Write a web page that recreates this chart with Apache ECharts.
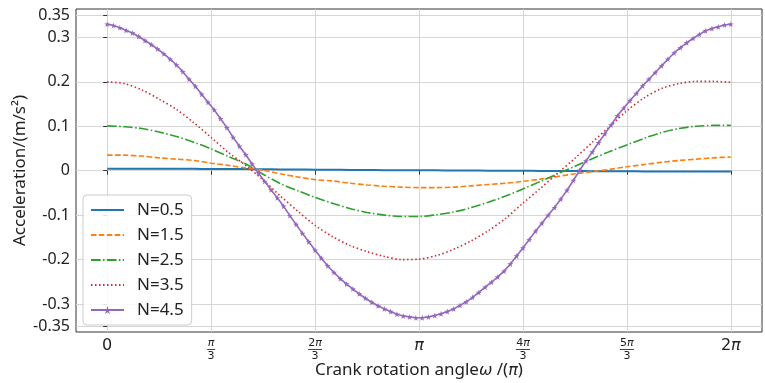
<!DOCTYPE html>
<html>
<head>
<meta charset="utf-8">
<script src="https://cdn.jsdelivr.net/npm/echarts@6/dist/echarts.min.js"></script>
<style>
  html, body { margin: 0; padding: 0; background: #fff; }
  #chart { width: 765px; height: 383px; }
</style>
</head>
<body>
<div id="chart"></div>
<script>
// legend names, one per curve
const names = ['N=0.5', 'N=1.5', 'N=2.5', 'N=3.5', 'N=4.5'];
const colors = ['#1f77b4', '#ff7f0e', '#2ca02c', '#d62728', '#9467bd'];

// x ticks, in units of pi
const xTickValues = [0, 1 / 3, 2 / 3, 1, 4 / 3, 5 / 3, 2];
const xTickLabels = [
  '{m|0}',
  '{fi|π}\n{bar1| }\n{fn|3}',
  '{fn|2}{fi|π}\n{bar2| }\n{fn|3}',
  '{i|π}',
  '{fn|4}{fi|π}\n{bar2| }\n{fn|3}',
  '{fn|5}{fi|π}\n{bar2| }\n{fn|3}',
  '{m|2}{i|π}'
];
const yTickValues = [-0.35, -0.3, -0.2, -0.1, 0, 0.1, 0.2, 0.3, 0.35];
const yTickLabels = ['-0.35', '-0.3', '-0.2', '-0.1', '0', '0.1', '0.2', '0.3', '0.35'];

const n05 = [0.0045, 0.0045, 0.0045, 0.0044, 0.0043, 0.0042, 0.0040, 0.0038, 0.0036, 0.0033,
  0.0030, 0.0027, 0.0024, 0.0021, 0.0018, 0.0015, 0.0013, 0.0011, 0.0010, 0.0008,
  0.0006, 0.0004, 0.0002, 0.0000, -0.0002, -0.0004, -0.0006, -0.0008, -0.0010, -0.0012,
  -0.0013, -0.0015, -0.0016, -0.0017, -0.0018, -0.0019, -0.0020];
const n15 = [0.035, 0.035, 0.033, 0.029, 0.026, 0.023, 0.017, 0.012, 0.006, 0.001,
  -0.007, -0.014, -0.020, -0.023, -0.028, -0.032, -0.035, -0.037, -0.038, -0.038,
  -0.037, -0.034, -0.031, -0.028, -0.024, -0.019, -0.013, -0.007, -0.002, 0.003,
  0.009, 0.014, 0.019, 0.023, 0.026, 0.029, 0.031];
const n25 = [0.101, 0.099, 0.095, 0.087, 0.077, 0.064, 0.049, 0.032, 0.015, -0.008,
  -0.029, -0.045, -0.060, -0.073, -0.085, -0.094, -0.100, -0.103, -0.103, -0.099,
  -0.093, -0.083, -0.071, -0.057, -0.041, -0.024, -0.007, 0.010, 0.027, 0.043,
  0.058, 0.073, 0.086, 0.095, 0.100, 0.102, 0.102];
const n35 = [0.200, 0.196, 0.182, 0.161, 0.138, 0.108, 0.075, 0.041, 0.012, -0.021,
  -0.057, -0.091, -0.123, -0.148, -0.168, -0.182, -0.193, -0.200, -0.199, -0.191,
  -0.177, -0.158, -0.135, -0.107, -0.073, -0.040, -0.006, 0.028, 0.064, 0.099,
  0.135, 0.164, 0.185, 0.196, 0.201, 0.201, 0.199];
// N=4.5 has a marker on each of its 100 samples over [0, 2pi]
const n45 = [0.330, 0.327, 0.322, 0.316, 0.310, 0.302, 0.293, 0.284, 0.274, 0.263,
  0.251, 0.238, 0.223, 0.206, 0.190, 0.172, 0.154, 0.137, 0.117, 0.097,
  0.075, 0.055, 0.036, 0.015, -0.005, -0.024, -0.043, -0.061, -0.080, -0.101,
  -0.121, -0.141, -0.160, -0.179, -0.197, -0.214, -0.229, -0.243, -0.255, -0.266,
  -0.277, -0.287, -0.296, -0.304, -0.311, -0.317, -0.323, -0.327, -0.329, -0.331,
  -0.331, -0.329, -0.326, -0.322, -0.317, -0.311, -0.303, -0.295, -0.285, -0.274,
  -0.262, -0.251, -0.239, -0.226, -0.210, -0.192, -0.174, -0.155, -0.136, -0.118,
  -0.100, -0.083, -0.064, -0.044, -0.022, 0.001, 0.022, 0.042, 0.063, 0.083,
  0.103, 0.124, 0.141, 0.158, 0.174, 0.191, 0.206, 0.221, 0.236, 0.251,
  0.265, 0.277, 0.288, 0.298, 0.307, 0.315, 0.320, 0.324, 0.328, 0.330];

const curves = [n05, n15, n25, n35, n45];
const dashes = ['solid', [5.5, 2.4], [9.6, 2.4, 1.5, 2.4], [1.5, 2.5], 'solid'];

function toPairs(values) {
  const step = 2 / (values.length - 1);
  return values.map((v, i) => [i * step, v]);
}

const star = 'path://M50,0 L61,35 L98,35 L68,57 L79,91 L50,70 L21,91 L32,57 L2,35 L39,35 Z';

const series = curves.map((values, i) => {
  const marked = i === 4;
  return {
    name: names[i],
    type: 'line',
    data: toPairs(values),
    smooth: marked ? false : 0.3,
    symbol: marked ? star : 'none',
    symbolSize: 6,
    showSymbol: marked,
    lineStyle: { color: colors[i], width: i === 0 ? 2 : 1.6, type: dashes[i], cap: 'butt' },
    itemStyle: { color: colors[i] },
    z: 2 + i
  };
});

// only the marked curve shows a symbol in its legend entry
const legendData = names.map((name, i) => (
  i === 4 ? { name } : { name, itemStyle: { opacity: 0 } }
));

const chart = echarts.init(document.getElementById('chart'));
chart.setOption({
  animation: false,
  backgroundColor: '#fff',
  grid: {
    left: 76, top: 9, right: 3, bottom: 51,
    show: true, borderColor: '#333', borderWidth: 1,
    outerBoundsMode: 'none'
  },
  legend: {
    orient: 'vertical',
    left: 83,
    top: 195,
    itemWidth: 33,
    itemHeight: 10,
    itemGap: 5,
    padding: [5, 8, 5, 7],
    backgroundColor: 'rgba(255,255,255,0.85)',
    borderColor: '#cccccc',
    borderWidth: 1,
    borderRadius: 4,
    textStyle: { fontFamily: 'Noto Sans', fontSize: 17, color: '#222', lineHeight: 20, padding: [0, 0, 0, 8] },
    data: legendData
  },
  xAxis: {
    type: 'value',
    min: -0.1,
    max: 2.1,
    name: '{t|Crank rotation angle}{i|ω}{t| /(}{i|π}{t|)}',
    nameLocation: 'middle',
    nameGap: 30,
    nameMoveOverlap: false,
    nameTextStyle: {
      rich: {
        t: { fontFamily: 'Noto Sans', fontSize: 17, color: '#222' },
        i: { fontFamily: 'DejaVu Sans', fontStyle: 'italic', fontSize: 16, color: '#222' }
      }
    },
    axisLine: { show: false },
    axisTick: { show: true, length: 4, lineStyle: { color: '#333' }, customValues: xTickValues },
    splitLine: { show: true, lineStyle: { color: '#d6d6d6', width: 1 } },
    axisLabel: {
      margin: 6,
      customValues: xTickValues,
      formatter: (value) => {
        const i = xTickValues.findIndex(v => Math.abs(v - value) < 1e-6);
        return i >= 0 ? xTickLabels[i] : '';
      },
      rich: {
        m: { fontFamily: 'DejaVu Sans', fontSize: 16, color: '#222' },
        i: { fontFamily: 'DejaVu Sans', fontStyle: 'italic', fontSize: 16, color: '#222' },
        fn: { fontFamily: 'DejaVu Sans', fontSize: 11, lineHeight: 10, color: '#222' },
        fi: { fontFamily: 'DejaVu Sans', fontStyle: 'italic', fontSize: 11, lineHeight: 10, color: '#222' },
        bar1: { width: 8, height: 1, lineHeight: 3, fontSize: 1, backgroundColor: '#444' },
        bar2: { width: 14, height: 1, lineHeight: 3, fontSize: 1, backgroundColor: '#444' }
      }
    }
  },
  yAxis: {
    type: 'value',
    min: -0.363,
    max: 0.364,
    name: 'Acceleration/(m/s²)',
    nameLocation: 'middle',
    nameGap: 47,
    nameMoveOverlap: false,
    nameTextStyle: { fontFamily: 'Noto Sans', fontSize: 17, color: '#222' },
    axisLine: { show: false },
    axisTick: { show: true, length: 4, lineStyle: { color: '#333' }, customValues: yTickValues },
    splitLine: { show: true, lineStyle: { color: '#d6d6d6', width: 1 } },
    axisLabel: {
      margin: 6,
      customValues: yTickValues,
      fontFamily: 'Noto Sans',
      fontSize: 16,
      color: '#222',
      formatter: (value) => {
        const i = yTickValues.findIndex(v => Math.abs(v - value) < 1e-6);
        return i >= 0 ? yTickLabels[i] : '';
      }
    }
  },
  series: series
});
</script>
</body>
</html>
